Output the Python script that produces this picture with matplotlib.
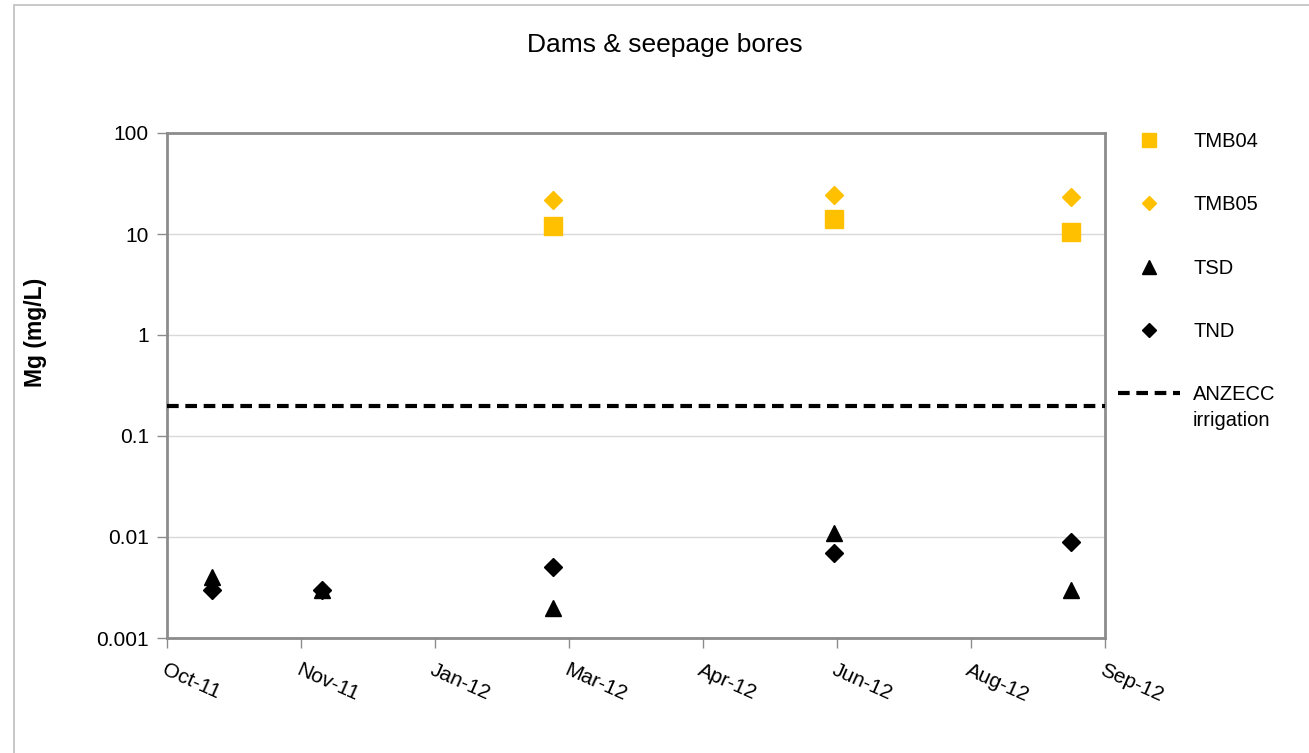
import datetime as dt
import matplotlib
matplotlib.use("Agg")
import matplotlib.pyplot as plt
import matplotlib.dates as mdates
from matplotlib.lines import Line2D
from matplotlib.patches import Rectangle

plt.rcParams['font.family'] = ['Liberation Sans', 'DejaVu Sans']

# Sampling dates and Mg concentrations (mg/L)
dates_all = [dt.date(2011, 10, 18), dt.date(2011, 11, 29), dt.date(2012, 2, 25),
             dt.date(2012, 6, 11), dt.date(2012, 9, 9)]
dates_bores = [dt.date(2012, 2, 25), dt.date(2012, 6, 11), dt.date(2012, 9, 9)]

tmb04 = [12, 14, 10.5]
tmb05 = [21.5, 24.5, 23]
tsd = [0.004, 0.003, 0.002, 0.011, 0.003]
tnd = [0.003, 0.003, 0.005, 0.007, 0.009]
anzecc_irrigation = 0.2

# Date axis: start and major tick interval (days)
axis_start = dt.date(2011, 10, 1)
tick_step_days = 51
n_intervals = 7

gold = '#FFC000'
spine_grey = '#8C8C8C'
dash_pattern = (2.8, 1.6)

fig = plt.figure(figsize=(13.09, 7.53), dpi=100)
ax = fig.add_axes([167 / 1309, 1 - 638 / 753, (1105 - 167) / 1309, (638 - 133) / 753])

ax.plot(dates_bores, tmb04, linestyle='none', marker='s', markersize=13.5,
        color=gold, label='TMB04')
ax.plot(dates_bores, tmb05, linestyle='none', marker='D', markersize=9.6,
        color=gold, label='TMB05')
ax.plot(dates_all, tsd, linestyle='none', marker='^', markersize=11,
        color='black', label='TSD')
ax.plot(dates_all, tnd, linestyle='none', marker='D', markersize=9.6,
        color='black', label='TND')
ax.axhline(anzecc_irrigation, color='black', linewidth=3,
           dashes=dash_pattern, zorder=3)

ax.set_yscale('log')
ax.set_ylim(0.001, 100)
ax.set_yticks([0.001, 0.01, 0.1, 1, 10, 100])
ax.set_yticklabels(['0.001', '0.01', '0.1', '1', '10', '100'])
ax.yaxis.set_minor_locator(matplotlib.ticker.NullLocator())

ticks = [axis_start + dt.timedelta(days=tick_step_days * i) for i in range(n_intervals + 1)]
ax.set_xlim(ticks[0], ticks[-1])
ax.set_xticks(ticks)
ax.xaxis.set_major_formatter(mdates.DateFormatter('%b-%y'))

ax.grid(axis='y', color='#D9D9D9', linewidth=1)
ax.set_axisbelow(True)
for s in ax.spines.values():
    s.set_color(spine_grey)
    s.set_linewidth(2)
ax.tick_params(axis='both', colors=spine_grey, labelcolor='black',
               length=7, width=1)
ax.tick_params(axis='y', labelsize=15, pad=6)
ax.tick_params(axis='x', labelsize=15, pad=9)
for lbl in ax.get_xticklabels():
    lbl.set_rotation(-24)
    lbl.set_ha('left')
    lbl.set_va('top')
    lbl.set_rotation_mode('anchor')

ax.set_ylabel('Mg (mg/L)', fontsize=16.5, fontweight='bold')
ax.yaxis.set_label_coords((47 - 167) / 938, (638 - 332) / 505)
fig.text(0.508, 1 - 45 / 753, 'Dams & seepage bores', ha='center', va='center',
         fontsize=19)

# Legend placed to the right of the plot area
handles = [
    Line2D([], [], linestyle='none', marker='s', markersize=10.3, color=gold),
    Line2D([], [], linestyle='none', marker='D', markersize=7.3, color=gold),
    Line2D([], [], linestyle='none', marker='^', markersize=10.3, color='black'),
    Line2D([], [], linestyle='none', marker='D', markersize=6.8, color='black'),
    Line2D([], [], color='black', linewidth=3, dashes=dash_pattern),
]
labels = ['TMB04', 'TMB05', 'TSD', 'TND', 'ANZECC']
fig.legend(handles, labels, loc='upper left', bbox_to_anchor=(1118 / 1309, 1 - 132 / 753),
           frameon=False, fontsize=14.5, labelspacing=2.2, handlelength=3.08,
           handletextpad=0.65, borderpad=0, borderaxespad=0)
fig.text(1193 / 1309, 1 - 421 / 753, 'irrigation', ha='left', va='center',
         fontsize=14.5)

# Chart-area frame
fig.patches.append(Rectangle((13.5 / 1309, -0.1), 1.2, 1 - 5.5 / 753 + 0.1,
                             transform=fig.transFigure, fill=False,
                             edgecolor='#BFBFBF', linewidth=1.2))

fig.savefig('out.png', dpi=100)
